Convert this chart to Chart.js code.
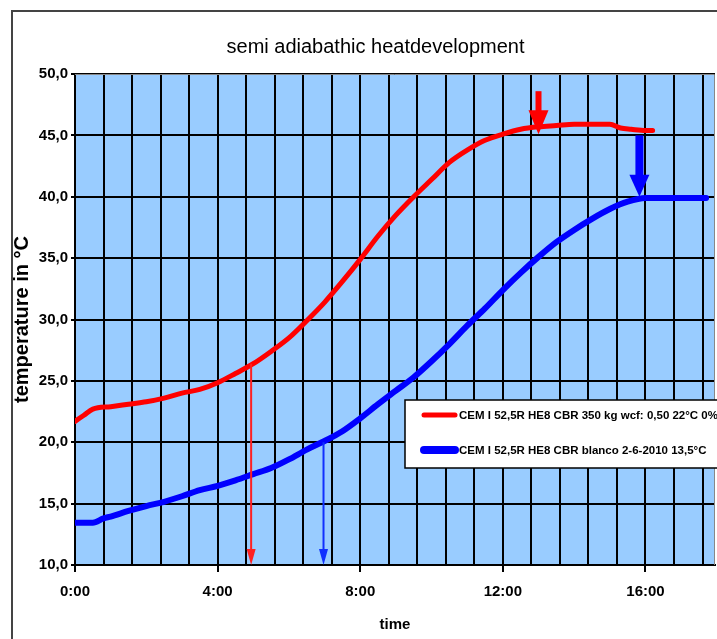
<!DOCTYPE html>
<html>
<head>
<meta charset="utf-8">
<title>semi adiabathic heatdevelopment</title>
<script src="https://cdn.jsdelivr.net/npm/chart.js@4"></script>
<style>
  html, body { margin: 0; padding: 0; background: #fff; overflow: hidden; }
  #wrap { width: 717px; height: 639px; }
</style>
</head>
<body>
<div id="wrap"><canvas id="heatChart" width="717" height="639"></canvas></div>
<script>
// series (hours since start, temperature in degrees C)
const redLabel = 'CEM I 52,5R HE8 CBR 350 kg wcf: 0,50 22°C 0%';
const redHours = [0, 0.25, 0.5, 1, 1.5, 2, 2.5, 3, 3.5, 4, 4.5, 5, 5.5, 6, 6.5, 7, 7.5, 8, 8.5, 9, 9.5, 10, 10.5, 11, 11.5, 12, 12.5, 13, 13.5, 14, 14.5, 15, 15.3, 15.6, 16, 16.2];
const redTemp  = [21.7, 22.2, 22.7, 22.9, 23.1, 23.3, 23.6, 24.0, 24.3, 24.85, 25.6, 26.4, 27.4, 28.5, 29.9, 31.4, 33.1, 34.9, 36.8, 38.5, 40.0, 41.4, 42.8, 43.8, 44.6, 45.1, 45.5, 45.7, 45.8, 45.9, 45.9, 45.9, 45.6, 45.5, 45.4, 45.4];

const blueLabel = 'CEM I 52,5R HE8 CBR blanco 2-6-2010 13,5°C';
const blueHours = [0, 0.5, 0.8, 1, 1.5, 2, 2.5, 3, 3.5, 4, 4.5, 5, 5.5, 6, 6.5, 7, 7.5, 8, 8.5, 9, 9.5, 10, 10.5, 11, 11.5, 12, 12.5, 13, 13.5, 14, 14.5, 15, 15.5, 16, 16.5, 17, 17.7];
const blueTemp  = [13.45, 13.45, 13.8, 13.95, 14.4, 14.8, 15.15, 15.6, 16.1, 16.45, 16.9, 17.4, 17.9, 18.6, 19.4, 20.1, 20.9, 21.95, 23.1, 24.2, 25.3, 26.6, 28.0, 29.5, 30.9, 32.4, 33.8, 35.1, 36.3, 37.3, 38.2, 39.0, 39.6, 39.9, 39.9, 39.9, 39.9];

// marker arrows: time, start temperature, end temperature
const arrowHours = [13.0, 15.83, 4.94, 6.97];
const arrowFrom  = [48.6, 45.0, 26.4, 20.0];
const arrowTo    = [45.1, 40.0, 10, 10];

// axes
const yMin = 10, yMax = 50, yStep = 5;
const xMin = 0, xMax = 17.95, xGridStep = 0.8, xLabelEvery = 5;

const sans = "'Liberation Sans', Arial, sans-serif";
const arrowStyles = [
    { color: '#ff0000', width: 6, headW: 20, headL: 24 },
    { color: '#0000ff', width: 8, headW: 20, headL: 22 },
    { color: '#ff2020', width: 2, headW: 9, headL: 16 },
    { color: '#1030ff', width: 2, headW: 9, headL: 16 }
];

const toPoints = (xs, ys) => xs.map((x, i) => ({ x: x, y: ys[i] }));

// plot background, outer frame and plot border
const backdrop = {
    id: 'backdrop',
    beforeDraw(chart) {
        const { ctx, chartArea: a } = chart;
        ctx.save();
        ctx.fillStyle = '#ffffff';
        ctx.fillRect(0, 0, chart.width, chart.height);
        ctx.fillStyle = '#99ccff';
        ctx.fillRect(a.left, a.top, a.right - a.left, a.bottom - a.top);
        ctx.strokeStyle = '#444';
        ctx.lineWidth = 2;
        ctx.strokeRect(12, 11, chart.width + 20, chart.height + 20);
        ctx.restore();
    },
    beforeDatasetsDraw(chart) {
        const { ctx, chartArea: a } = chart;
        ctx.save();
        ctx.strokeStyle = '#888';
        ctx.lineWidth = 1;
        ctx.beginPath();
        ctx.moveTo(a.left, a.top + 0.5);
        ctx.lineTo(a.right - 0.5, a.top + 0.5);
        ctx.lineTo(a.right - 0.5, a.bottom);
        ctx.stroke();
        ctx.restore();
    }
};

// arrows drawn through the scales
const arrows = {
    id: 'arrows',
    afterDatasetsDraw(chart) {
        const { ctx, scales: { x, y } } = chart;
        ctx.save();
        arrowHours.forEach((h, i) => {
            const s = arrowStyles[i];
            const px = x.getPixelForValue(h);
            const y0 = y.getPixelForValue(arrowFrom[i]);
            const y1 = y.getPixelForValue(arrowTo[i]);
            ctx.strokeStyle = s.color;
            ctx.fillStyle = s.color;
            ctx.lineWidth = s.width;
            ctx.beginPath();
            ctx.moveTo(px, y0);
            ctx.lineTo(px, y1 - s.headL + 2);
            ctx.stroke();
            ctx.beginPath();
            ctx.moveTo(px - s.headW / 2, y1 - s.headL);
            ctx.lineTo(px + s.headW / 2, y1 - s.headL);
            ctx.lineTo(px, y1);
            ctx.closePath();
            ctx.fill();
        });
        ctx.restore();
    }
};

// boxed legend inside the plot, like the original
const boxLegend = {
    id: 'boxLegend',
    afterDraw(chart) {
        const { ctx } = chart;
        const left = 405, top = 400, w = 330, h = 68;
        ctx.save();
        ctx.fillStyle = '#fff';
        ctx.fillRect(left, top, w, h);
        ctx.strokeStyle = '#000';
        ctx.lineWidth = 1.5;
        ctx.strokeRect(left, top, w, h);
        ctx.font = 'bold 11.5px ' + sans;
        ctx.textBaseline = 'middle';
        ctx.lineCap = 'round';
        const rows = [top + 16, top + 51];
        chart.data.datasets.forEach((ds, i) => {
            ctx.strokeStyle = ds.borderColor;
            ctx.lineWidth = i === 0 ? 5 : 8;
            ctx.beginPath();
            ctx.moveTo(424, rows[i] - 1);
            ctx.lineTo(455, rows[i] - 1);
            ctx.stroke();
            ctx.fillStyle = '#000';
            ctx.fillText(ds.label, 459, rows[i]);
        });
        ctx.restore();
    }
};

new Chart(document.getElementById('heatChart'), {
    type: 'line',
    data: {
        datasets: [{
            label: redLabel,
            data: toPoints(redHours, redTemp),
            borderColor: '#ff0000',
            borderWidth: 5,
            borderCapStyle: 'round',
            cubicInterpolationMode: 'monotone',
            pointRadius: 0,
            fill: false
        }, {
            label: blueLabel,
            data: toPoints(blueHours, blueTemp),
            borderColor: '#0000ff',
            borderWidth: 6,
            borderCapStyle: 'round',
            cubicInterpolationMode: 'monotone',
            pointRadius: 0,
            fill: false
        }]
    },
    options: {
        responsive: false,
        animation: false,
        devicePixelRatio: 1,
        // left padding centres the title over the framed area; the y axis width makes up for it
        layout: { padding: { left: 36, right: 2, top: 0, bottom: 0 } },
        scales: {
            x: {
                type: 'linear',
                min: xMin,
                max: xMax,
                bounds: 'data',
                afterFit(scale) { scale.height = 74; },
                grid: {
                    color: '#000',
                    lineWidth: 2,
                    tickLength: 7,
                    tickColor: ctx => (ctx.index % xLabelEvery === 0 ? '#000' : 'rgba(0,0,0,0)')
                },
                border: { color: '#000', width: 2 },
                ticks: {
                    stepSize: xGridStep,
                    includeBounds: false,
                    autoSkip: false,
                    maxRotation: 0,
                    padding: 11,
                    color: '#000',
                    font: { family: sans, size: 15, weight: 'bold' },
                    callback: (value, index) => (index % xLabelEvery === 0 ? Math.round(value) + ':00' : '')
                },
                title: {
                    display: true,
                    text: 'time',
                    color: '#000',
                    font: { family: sans, size: 15, weight: 'bold' },
                    padding: { top: 0, bottom: 5 }
                }
            },
            y: {
                min: yMin,
                max: yMax,
                afterFit(scale) { scale.width = 39; },
                grid: { color: '#000', lineWidth: 2, tickLength: 4 },
                border: { color: '#000', width: 2 },
                ticks: {
                    stepSize: yStep,
                    padding: 3,
                    color: '#000',
                    font: { family: sans, size: 15, weight: 'bold' },
                    callback: value => value.toFixed(1).replace('.', ',')
                },
                title: {
                    display: true,
                    text: 'temperature in °C',
                    color: '#000',
                    font: { family: sans, size: 20, weight: 'bold' },
                    padding: { top: -26, bottom: 0 }
                }
            }
        },
        plugins: {
            legend: { display: false },
            tooltip: { enabled: false },
            title: {
                display: true,
                text: 'semi adiabathic heatdevelopment',
                color: '#000',
                font: { family: sans, size: 20, weight: 'normal', lineHeight: 1.2 },
                padding: { top: 35, bottom: 15 }
            }
        }
    },
    plugins: [backdrop, arrows, boxLegend]
});
</script>
</body>
</html>
